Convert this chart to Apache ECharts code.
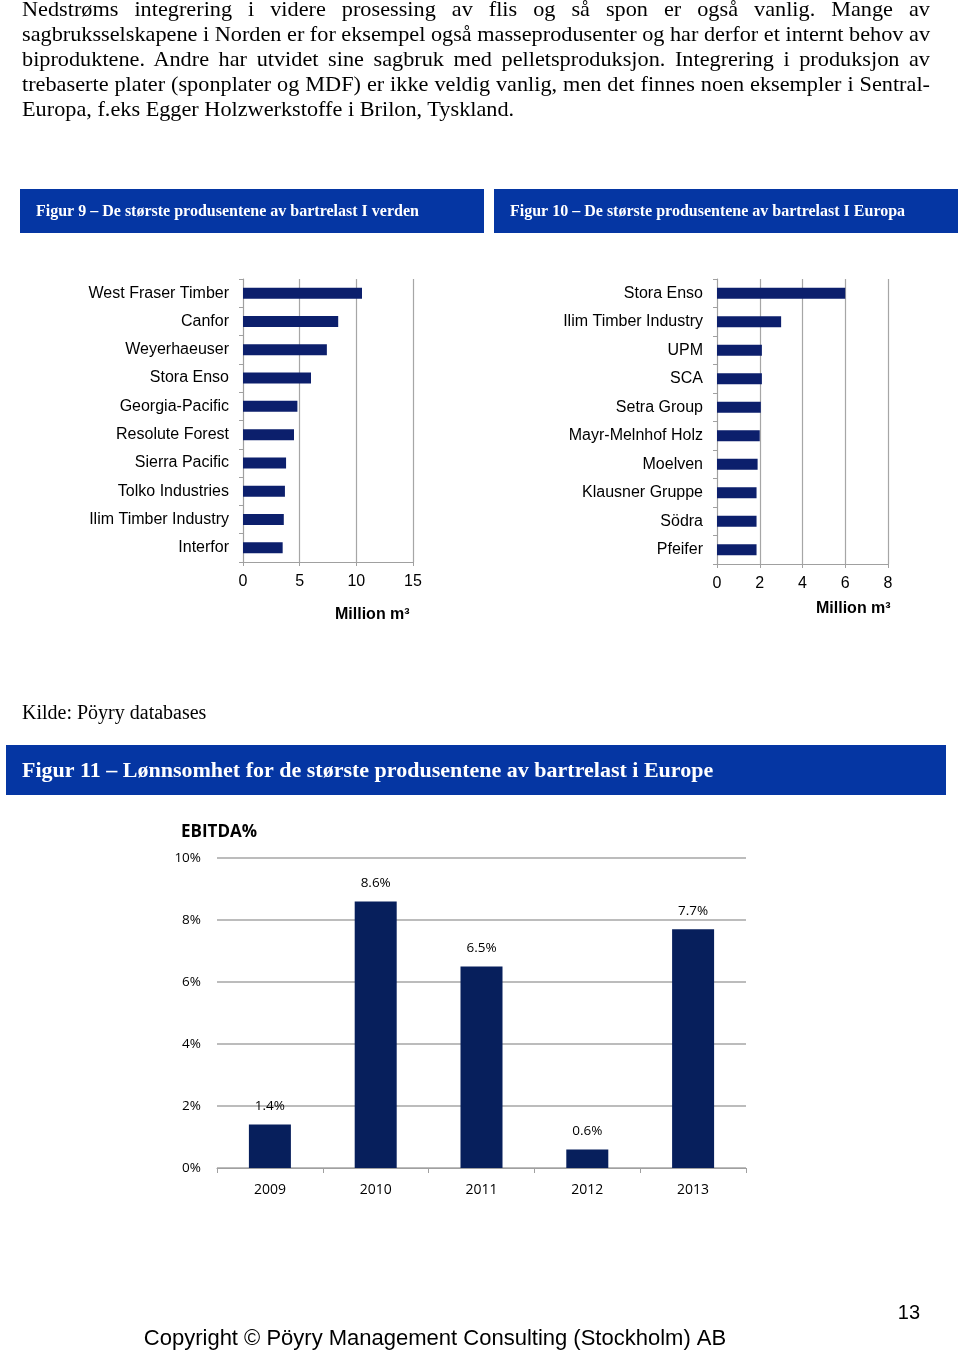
<!DOCTYPE html>
<html>
<head>
<meta charset="utf-8">
<script src="https://cdn.jsdelivr.net/npm/echarts@6/dist/echarts.min.js"></script>
<style>
  html, body { margin: 0; padding: 0; background: #fff; }
  #page { position: relative; width: 960px; height: 1353px; overflow: hidden; }
  #chart { position: absolute; left: 0; top: 0; width: 960px; height: 1353px; }
  #prose { position: absolute; left: 22px; top: 0; width: 908px; z-index: 2;
           font-family: "Liberation Serif", "Times New Roman", serif; font-size: 21px; color: #000; }
  .ln { position: absolute; left: 0; height: 25px; line-height: 25px; white-space: nowrap; transform-origin: 0 50%; }
</style>
</head>
<body>
<div id="page">
  <div id="chart"></div>
  <div id="prose"></div>
</div>
<script>
// ---------- data ----------
const worldCategories = ['West Fraser Timber', 'Canfor', 'Weyerhaeuser', 'Stora Enso', 'Georgia-Pacific',
  'Resolute Forest', 'Sierra Pacific', 'Tolko Industries', 'Ilim Timber Industry', 'Interfor'];
const worldValues = [10.5, 8.4, 7.4, 6.0, 4.8, 4.5, 3.8, 3.7, 3.6, 3.5];
const worldAxis = { min: 0, max: 15, interval: 5 };

const europeCategories = ['Stora Enso', 'Ilim Timber Industry', 'UPM', 'SCA', 'Setra Group',
  'Mayr-Melnhof Holz', 'Moelven', 'Klausner Gruppe', 'Södra', 'Pfeifer'];
const europeValues = [6.0, 3.0, 2.1, 2.1, 2.05, 2.0, 1.9, 1.85, 1.85, 1.85];
const europeAxis = { min: 0, max: 8, interval: 2 };

const ebitdaYears = ['2009', '2010', '2011', '2012', '2013'];
const ebitdaValues = [1.4, 8.6, 6.5, 0.6, 7.7];
const ebitdaAxis = { min: 0, max: 10, interval: 2 };

const proseLines = [
  'Nedstrøms integrering i videre prosessing av flis og så spon er også vanlig. Mange av',
  'sagbruksselskapene i Norden er for eksempel også masseprodusenter og har derfor et internt behov av',
  'biproduktene. Andre har utvidet sine sagbruk med pelletsproduksjon. Integrering i produksjon av',
  'trebaserte plater (sponplater og MDF) er ikke veldig vanlig, men det finnes noen eksempler i Sentral-',
  'Europa, f.eks Egger Holzwerkstoffe i Brilon, Tyskland.'
];

// ---------- prose (justified lines) ----------
const prose = document.getElementById('prose');
const FULL = 908;
const SX = 1.06;
proseLines.forEach((t, i) => {
  const d = document.createElement('div');
  d.className = 'ln';
  d.style.top = (-3 + i * 25) + 'px';
  d.textContent = t;
  prose.appendChild(d);
  const w = d.getBoundingClientRect().width;
  let sx = SX;
  if (i < proseLines.length - 1) {
    const spaces = (t.match(/ /g) || []).length;
    if (w * SX < FULL) {
      d.style.wordSpacing = ((FULL / SX - w) / spaces) + 'px';
    } else {
      sx = FULL / w;
    }
  }
  d.style.transform = 'scaleX(' + sx + ')';
});

// ---------- chart ----------
const chart = echarts.init(document.getElementById('chart'), null, { renderer: 'canvas' });
const BAR1 = '#0c1f6c';
const BAR3 = '#071f5c';
const HEAD = '#0536a3';
const GRID = '#a6a6a6';
const AX = '#a0a0a0';
const sans = '"Liberation Sans", Arial, sans-serif';
const calib = '"Open Sans", sans-serif';
const serif = '"Liberation Serif", "Times New Roman", serif';

function hbarX(ax) {
  return {
    type: 'value', min: ax.min, max: ax.max, interval: ax.interval,
    axisLine: { show: true, lineStyle: { color: AX, width: 1 } },
    axisTick: { show: true, length: 4, lineStyle: { color: AX } },
    splitLine: { show: true, lineStyle: { color: GRID, width: 1.2 } },
    axisLabel: { color: '#000', fontFamily: sans, fontSize: 16, margin: 12 }
  };
}
function hbarY(cats) {
  return {
    type: 'category', data: cats, inverse: true,
    axisLine: { show: true, lineStyle: { color: AX, width: 1 } },
    axisTick: { show: true, length: 4, lineStyle: { color: AX } },
    axisLabel: { color: '#000', fontFamily: sans, fontSize: 16, margin: 14 }
  };
}

const option = {
  backgroundColor: 'transparent',
  animation: false,
  title: [
    { text: 'Million m³', left: 335, top: 607, textStyle: { fontFamily: sans, fontSize: 16, fontWeight: 'bold', color: '#000' }, padding: 0 },
    { text: 'Million m³', left: 816, top: 601, textStyle: { fontFamily: sans, fontSize: 16, fontWeight: 'bold', color: '#000' }, padding: 0 },
    { text: 'EBITDA%', left: 181, top: 824, textStyle: { fontFamily: calib, fontSize: 17, fontWeight: 'bold', color: '#000' }, padding: 0 }
  ],
  grid: [
    { left: 243, top: 279, width: 170, height: 283, containLabel: false, outerBoundsMode: 'none' },
    { left: 717, top: 279, width: 171, height: 285, containLabel: false, outerBoundsMode: 'none' },
    { left: 217, top: 858, width: 529, height: 310, containLabel: false, outerBoundsMode: 'none' }
  ],
  xAxis: [
    Object.assign(hbarX(worldAxis), { gridIndex: 0 }),
    Object.assign(hbarX(europeAxis), { gridIndex: 1 }),
    {
      gridIndex: 2, type: 'category', data: ebitdaYears,
      axisLine: { show: true, lineStyle: { color: AX, width: 1.2 } },
      axisTick: { show: true, length: 5, lineStyle: { color: AX } },
      axisLabel: { color: '#000', fontFamily: calib, fontSize: 14, margin: 15 }
    }
  ],
  yAxis: [
    Object.assign(hbarY(worldCategories), { gridIndex: 0 }),
    Object.assign(hbarY(europeCategories), { gridIndex: 1 }),
    {
      gridIndex: 2, type: 'value', min: ebitdaAxis.min, max: ebitdaAxis.max, interval: ebitdaAxis.interval,
      axisLine: { show: false }, axisTick: { show: false },
      splitLine: { show: true, lineStyle: { color: GRID, width: 1.5 } },
      axisLabel: { color: '#000', fontFamily: calib, fontSize: 13.5, margin: 16, formatter: '{value}%' }
    }
  ],
  series: [
    { type: 'bar', xAxisIndex: 0, yAxisIndex: 0, data: worldValues, barWidth: 11, itemStyle: { color: BAR1 } },
    { type: 'bar', xAxisIndex: 1, yAxisIndex: 1, data: europeValues, barWidth: 11, itemStyle: { color: BAR1 } },
    {
      type: 'bar', xAxisIndex: 2, yAxisIndex: 2, data: ebitdaValues, barWidth: 42, itemStyle: { color: BAR3 },
      label: { show: true, position: 'top', distance: 11, color: '#000', fontFamily: calib, fontSize: 13.5,
               formatter: p => p.value.toFixed(1) + '%' }
    }
  ],
  graphic: [
    { type: 'rect', shape: { x: 20, y: 189, width: 464, height: 44 }, style: { fill: HEAD } },
    { type: 'rect', shape: { x: 494, y: 189, width: 464, height: 44 }, style: { fill: HEAD } },
    { type: 'rect', shape: { x: 6, y: 745, width: 940, height: 50 }, style: { fill: HEAD } },
    { type: 'text', style: { x: 36, y: 212, text: 'Figur 9 – De største produsentene av bartrelast I verden', fill: '#fff', font: 'bold 16px ' + serif, verticalAlign: 'middle' } },
    { type: 'text', style: { x: 510, y: 212, text: 'Figur 10 – De største produsentene av bartrelast I Europa', fill: '#fff', font: 'bold 16px ' + serif, verticalAlign: 'middle' } },
    { type: 'text', style: { x: 22, y: 771, text: 'Figur 11 – Lønnsomhet for de største produsentene av bartrelast i Europe', fill: '#fff', font: 'bold 22px ' + serif, verticalAlign: 'middle' } },
    { type: 'text', style: { x: 22, y: 714, text: 'Kilde: Pöyry databases', fill: '#000', font: '20px ' + serif, verticalAlign: 'middle' } },
    { type: 'text', style: { x: 435, y: 1339, text: 'Copyright © Pöyry Management Consulting (Stockholm) AB', fill: '#000', font: '22px ' + sans, align: 'center', verticalAlign: 'middle' } },
    { type: 'text', style: { x: 920, y: 1313, text: '13', fill: '#000', font: '20px ' + sans, align: 'right', verticalAlign: 'middle' } }
  ]
};
chart.setOption(option);
</script>
</body>
</html>
